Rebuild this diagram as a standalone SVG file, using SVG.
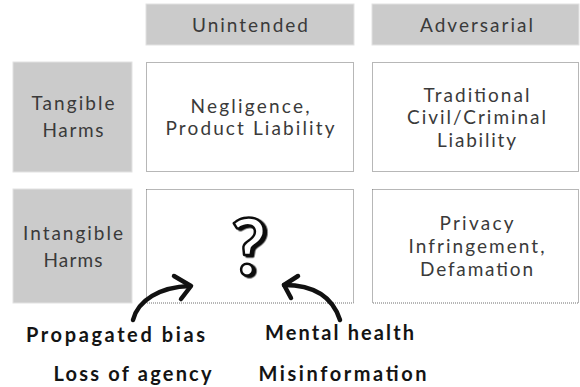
<svg xmlns="http://www.w3.org/2000/svg" width="580" height="387" viewBox="0 0 580 387">
<style>
.hdr{fill:#cbcbcb;stroke:#e2e2e2;stroke-width:1}
.cell{fill:#ffffff;stroke:#6e6e6e;stroke-width:1;stroke-dasharray:1 1}
.t{font-family:Lato,"Open Sans","Liberation Sans",sans-serif;font-size:19px;fill:#3a3a3a;text-anchor:middle}
.b{font-family:Lato,"Open Sans","Liberation Sans",sans-serif;font-size:20px;font-weight:bold;fill:#141414;text-anchor:middle}
.arr{fill:none;stroke:#111111;stroke-width:4.5;stroke-linecap:round;stroke-linejoin:round}
.q{font-family:Lato,"Liberation Sans",sans-serif;font-size:78px;font-weight:bold;text-anchor:middle;fill:#ffffff;stroke:#111111;stroke-width:2.5;stroke-linejoin:round}
</style>
<defs>
<filter id="shadow" x="-20%" y="-20%" width="140%" height="140%"><feDropShadow dx="2.5" dy="1.5" stdDeviation="0" flood-color="#111111"/></filter>
</defs>
<g id="col-unintended"><rect class="hdr" x="146" y="4" width="208" height="41"/><text class="t" x="250" y="32" textLength="116" lengthAdjust="spacing">Unintended</text></g>
<g id="col-adversarial"><rect class="hdr" x="372" y="4" width="207" height="41"/><text class="t" x="476.5" y="32" textLength="113" lengthAdjust="spacing">Adversarial</text></g>
<g id="row-tangible"><rect class="hdr" x="13" y="62" width="119" height="110"/><text class="t" x="73" y="110" textLength="83" lengthAdjust="spacing">Tangible</text><text class="t" x="73" y="137" textLength="61" lengthAdjust="spacing">Harms</text></g>
<g id="row-intangible"><rect class="hdr" x="13" y="189" width="119" height="114"/><text class="t" x="73" y="240" textLength="100" lengthAdjust="spacing">Intangible</text><text class="t" x="73" y="267" textLength="59" lengthAdjust="spacing">Harms</text></g>
<g id="cell-tangible-unintended"><rect class="cell" x="146.5" y="62.5" width="207" height="109"/><text class="t" x="250" y="113" textLength="119" lengthAdjust="spacing">Negligence,</text><text class="t" x="250" y="135" textLength="169" lengthAdjust="spacing">Product Liability</text></g>
<g id="cell-tangible-adversarial"><rect class="cell" x="372.5" y="62.5" width="206" height="109"/><text class="t" x="476.5" y="101.5" textLength="106" lengthAdjust="spacing">Traditional</text><text class="t" x="476.5" y="124.3" textLength="139" lengthAdjust="spacing">Civil/Criminal</text><text class="t" x="476.5" y="147.3" textLength="79" lengthAdjust="spacing">Liability</text></g>
<g id="cell-intangible-unintended"><rect class="cell" x="146.5" y="189.5" width="207" height="113.5"/><text class="q" x="249" y="275" filter="url(#shadow)">?</text></g>
<g id="cell-intangible-adversarial"><rect class="cell" x="372.5" y="189.5" width="206" height="113.5"/><text class="t" x="476.5" y="230" textLength="74" lengthAdjust="spacing">Privacy</text><text class="t" x="476.5" y="253.3" textLength="136" lengthAdjust="spacing">Infringement,</text><text class="t" x="476.5" y="276" textLength="113" lengthAdjust="spacing">Defamation</text></g>
<g id="connectors">
<path class="arr" d="M133,320 C138,300 160,287 190,286"/><path class="arr" d="M174,276 L191,286 L181,299"/>
<path class="arr" d="M340,320 C333,298 315,285 284,285"/><path class="arr" d="M298,276 L284,285 L291,298"/>
</g>
<g id="labels">
<text class="b" x="115.5" y="342" textLength="179" lengthAdjust="spacing">Propagated bias</text>
<text class="b" x="132.5" y="381" textLength="158" lengthAdjust="spacing">Loss of agency</text>
<text class="b" x="339.5" y="340" textLength="149" lengthAdjust="spacing">Mental health</text>
<text class="b" x="342.5" y="381" textLength="168" lengthAdjust="spacing">Misinformation</text>
</g>
</svg>
